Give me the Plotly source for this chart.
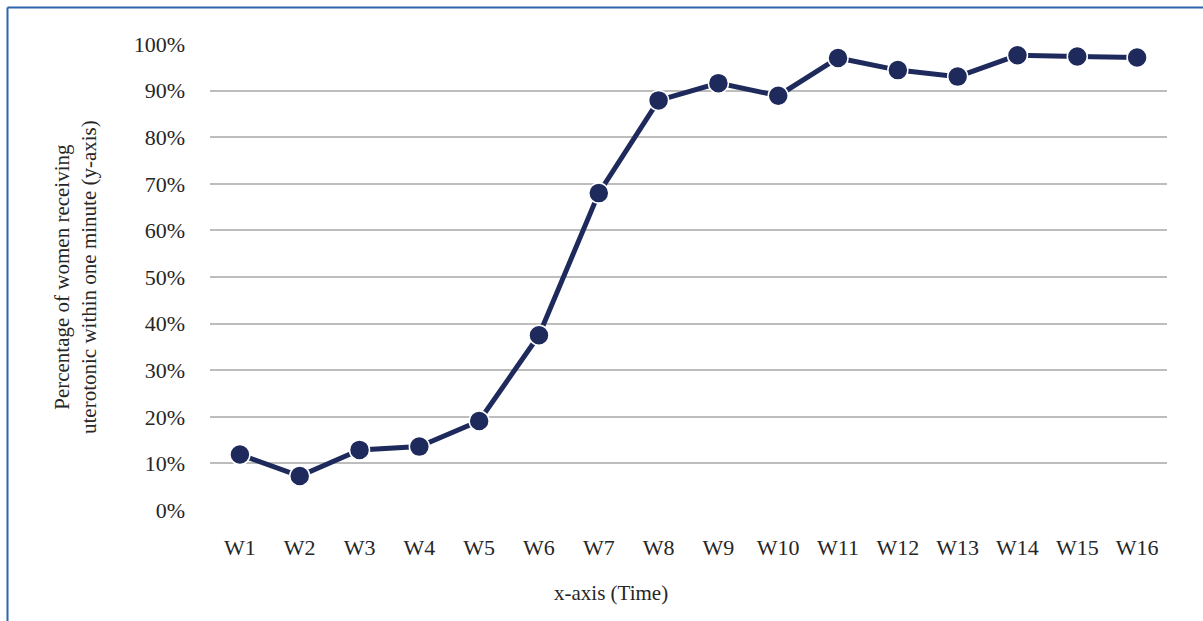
import plotly.graph_objects as go

weeks = ["W1", "W2", "W3", "W4", "W5", "W6", "W7", "W8",
         "W9", "W10", "W11", "W12", "W13", "W14", "W15", "W16"]
pct = [0.119, 0.073, 0.129, 0.136, 0.191, 0.375, 0.680, 0.879,
       0.916, 0.889, 0.970, 0.944, 0.930, 0.976, 0.973, 0.971]

navy = "#1F2A5C"
font_family = "Liberation Serif, DejaVu Serif, serif"

W, H = 1203, 621
L, R, T, B = 210, 36, 44, 111
pw, ph = W - L - R, H - T - B

fig = go.Figure()
fig.add_trace(go.Scatter(
    x=weeks, y=pct, mode="lines+markers",
    line=dict(color=navy, width=5),
    marker=dict(size=20, color=navy, line=dict(color="white", width=1.5)),
    cliponaxis=False, showlegend=False,
))

def px_x(p):
    return (p - L) / pw

def px_y(p):
    return (H - B - p) / ph

fig.update_layout(
    width=W, height=H,
    margin=dict(l=L, r=R, t=T, b=B),
    paper_bgcolor="white", plot_bgcolor="white",
    font=dict(family=font_family, size=22, color="#262626"),
    xaxis=dict(range=[-0.5, len(weeks) - 0.5],
               showgrid=False, showline=False, zeroline=False, ticks="",
               ticklabelstandoff=22, tickfont=dict(size=22)),
    yaxis=dict(range=[0, 1], dtick=0.1, tickformat=".0%",
               showgrid=True, gridcolor="#BDBDBD", gridwidth=1.5,
               zeroline=False, showline=False, ticks="",
               ticklabelstandoff=24, tickfont=dict(size=22)),
    annotations=[
        dict(text="Percentage of women receiving<br>uterotonic within one minute (y-axis)",
             xref="paper", yref="paper", x=px_x(75), y=px_y(277),
             xanchor="center", yanchor="middle", textangle=-90,
             showarrow=False, font=dict(size=21)),
        dict(text="x-axis (Time)", xref="paper", yref="paper",
             x=px_x(611), y=px_y(593), xanchor="center", yanchor="middle",
             showarrow=False, font=dict(size=21)),
    ],
    shapes=[
        dict(type="line", xref="paper", yref="paper",
             x0=px_x(7.5), x1=px_x(7.5), y0=px_y(H + 5), y1=px_y(7.5),
             line=dict(color="#2F64AE", width=2)),
        dict(type="line", xref="paper", yref="paper",
             x0=px_x(7.5), x1=px_x(W + 5), y0=px_y(7.5), y1=px_y(7.5),
             line=dict(color="#2F64AE", width=2)),
    ],
)

fig.write_html("out.html", config={"displayModeBar": False},
               post_script="document.body.style.margin='0px';")
